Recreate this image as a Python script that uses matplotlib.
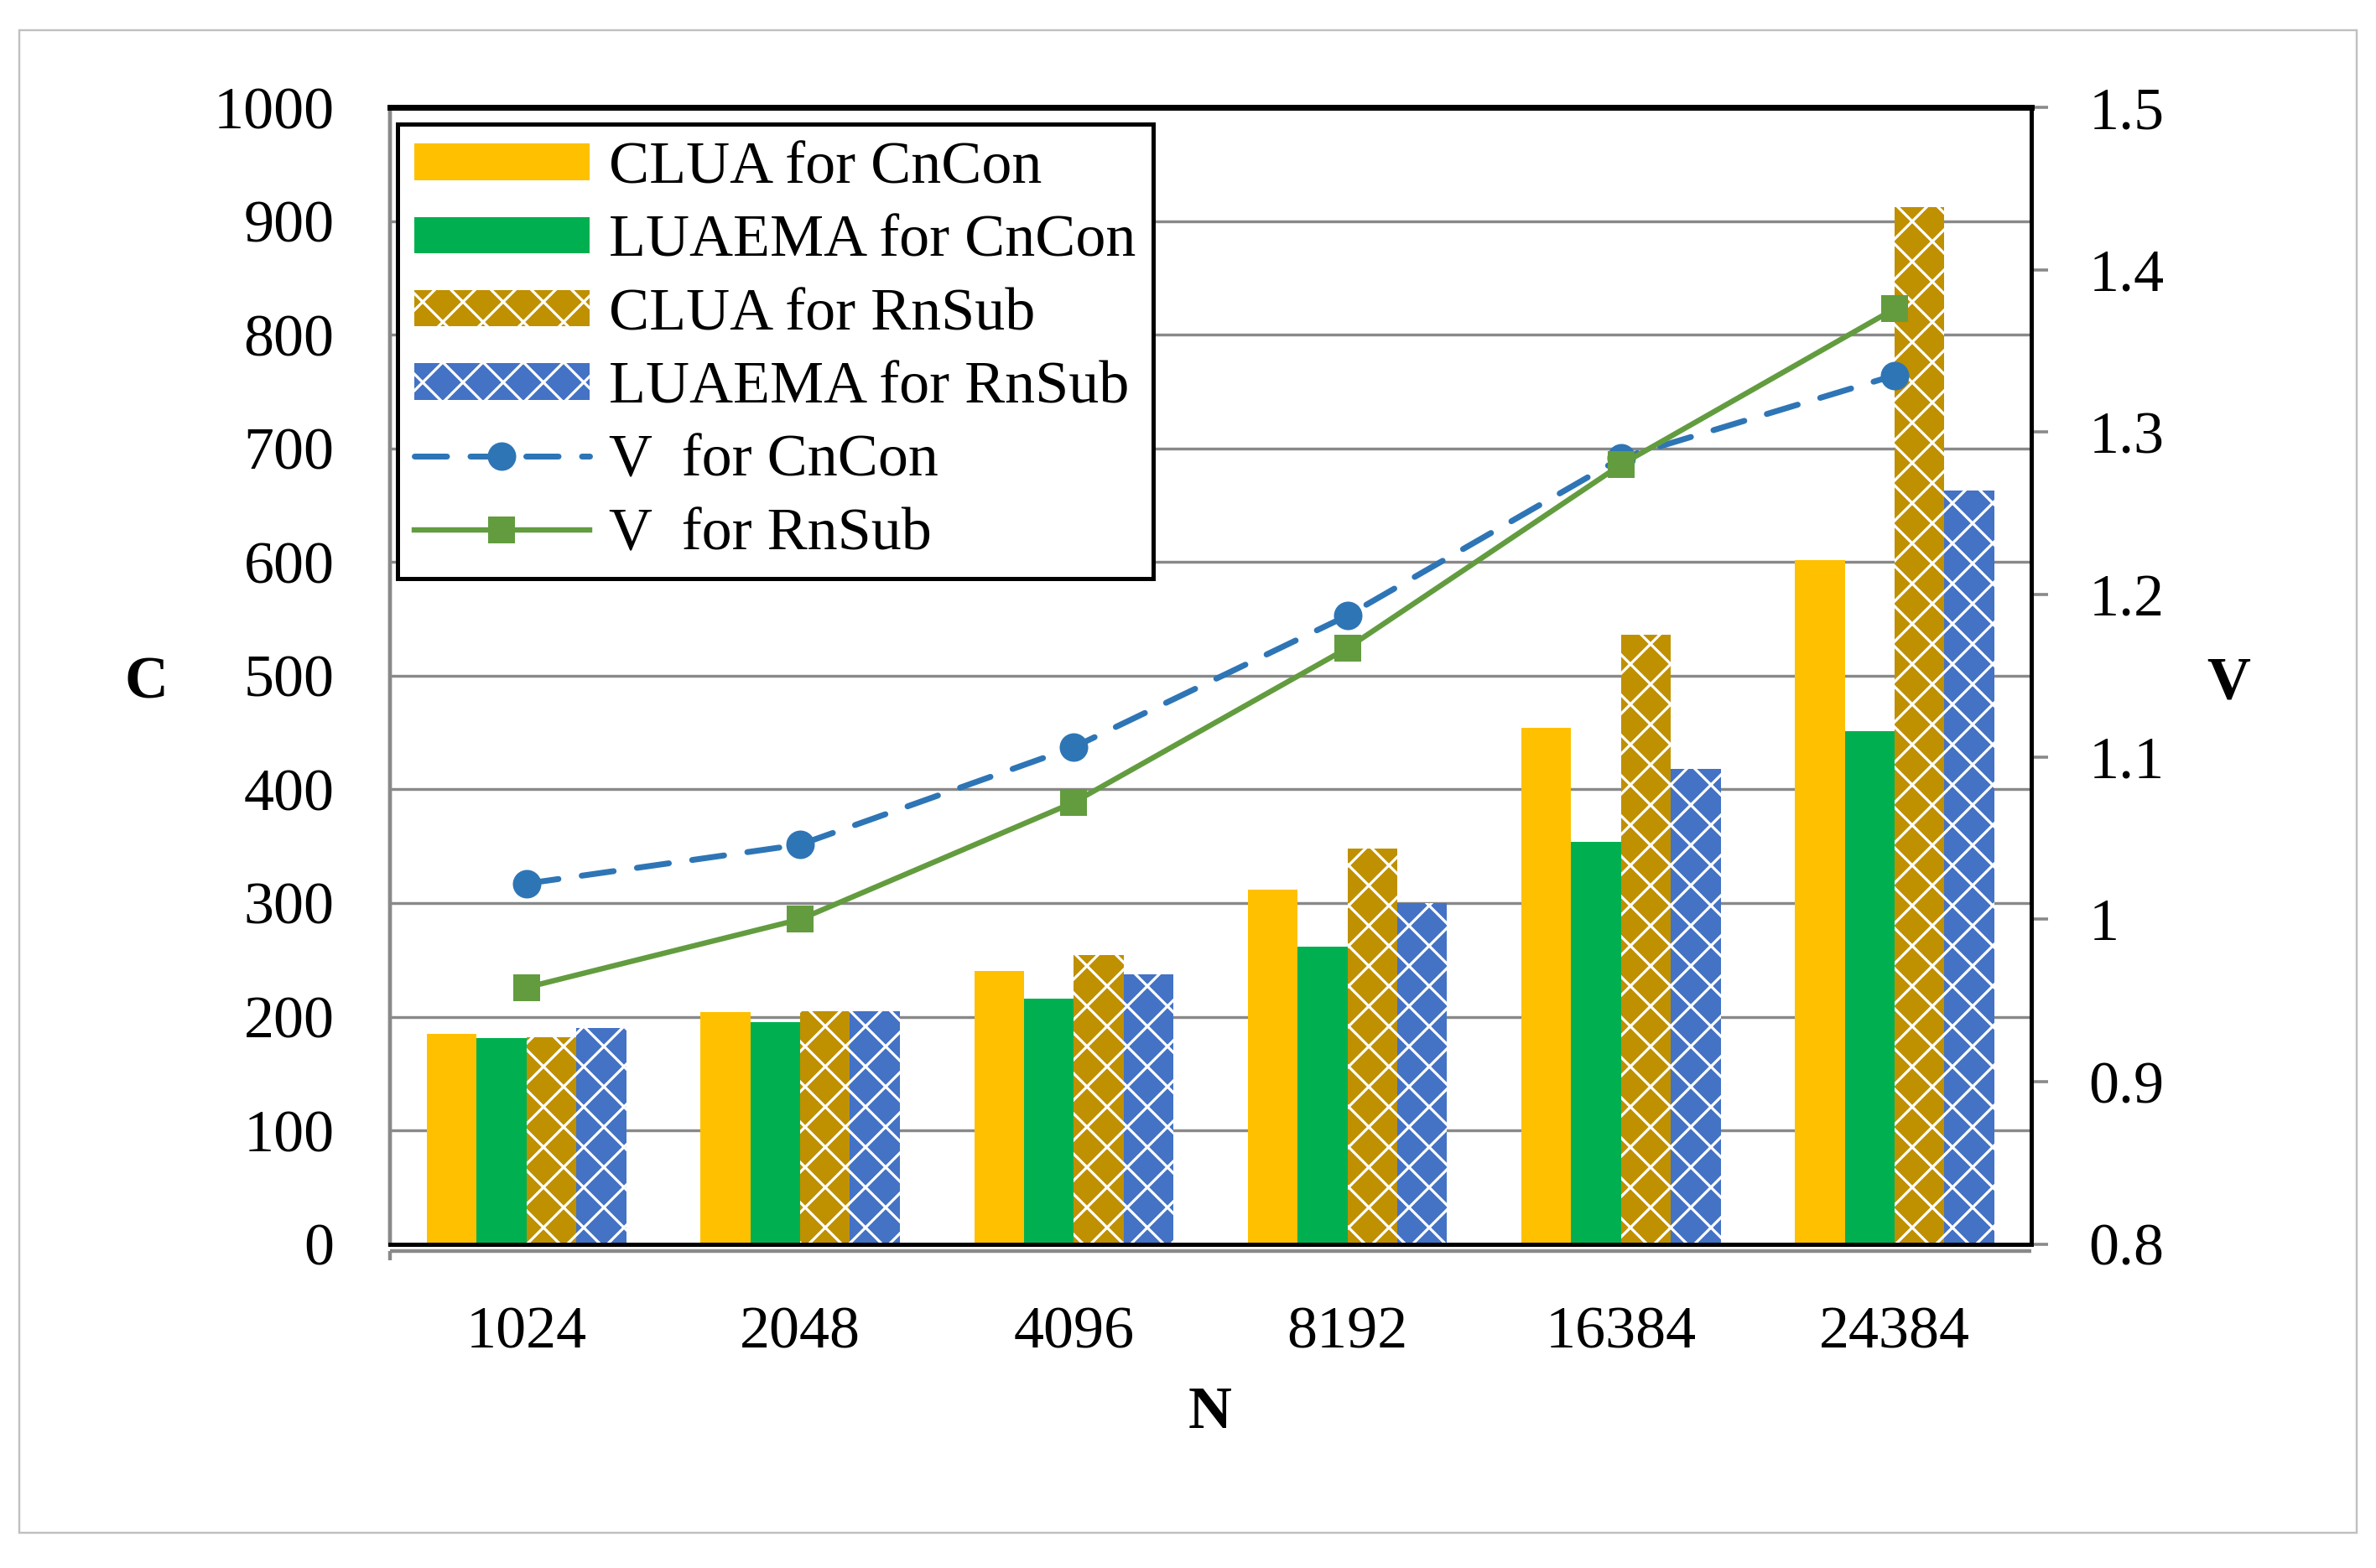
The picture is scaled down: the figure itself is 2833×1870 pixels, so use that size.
import matplotlib
matplotlib.use('Agg')
import matplotlib.pyplot as plt
import numpy as np
from matplotlib.patches import Rectangle

# ---- data ----
categories = ['1024', '2048', '4096', '8192', '16384', '24384']
clua_cncon = [185, 204, 240, 312, 454, 602]
luaema_cncon = [181, 195, 216, 262, 354, 451]
clua_rnsub = [182, 205, 254, 348, 536, 912]
luaema_rnsub = [190, 205, 237, 300, 418, 663]
v_cncon = [1.022, 1.046, 1.106, 1.187, 1.284, 1.335]
v_rnsub = [0.958, 1.000, 1.072, 1.167, 1.280, 1.376]
left_ticks = [0, 100, 200, 300, 400, 500, 600, 700, 800, 900, 1000]
right_ticks = [0.8, 0.9, 1.0, 1.1, 1.2, 1.3, 1.4, 1.5]
right_labels = ['0.8', '0.9', '1', '1.1', '1.2', '1.3', '1.4', '1.5']
series_labels = ['CLUA for CnCon', 'LUAEMA for CnCon', 'CLUA for RnSub',
                 'LUAEMA for RnSub', 'V  for CnCon', 'V  for RnSub']

plt.rcParams['font.family'] = ['Liberation Serif', 'DejaVu Serif']
plt.rcParams['hatch.linewidth'] = 1.6

DPI = 144
fig = plt.figure(figsize=(2833 / DPI, 1870 / DPI), dpi=DPI)
fig.patch.set_facecolor('white')
fig.patches.append(Rectangle((13 / 1568, 1 - 1013 / 1036), (1555 - 13) / 1568,
                             (1013 - 20) / 1036, transform=fig.transFigure,
                             fill=False, edgecolor='#c0c0c0', linewidth=1.2))

ax = fig.add_axes([0.164, 0.2066, 0.691, 0.7249])
ax2 = ax.twinx()

x = np.arange(len(categories))
w = 0.182
grid_c = '#898989'

b1 = ax.bar(x - 1.5 * w, clua_cncon, w, color='#FFC000', linewidth=0, zorder=3,
            label=series_labels[0])
b2 = ax.bar(x - 0.5 * w, luaema_cncon, w, color='#00B050', linewidth=0, zorder=3,
            label=series_labels[1])
b3 = ax.bar(x + 0.5 * w, clua_rnsub, w, color='#BF9000', edgecolor='white',
            hatch='x', linewidth=0, zorder=3, label=series_labels[2])
b4 = ax.bar(x + 1.5 * w, luaema_rnsub, w, color='#4472C4', edgecolor='white',
            hatch='x', linewidth=0, zorder=3, label=series_labels[3])

ax.set_xlim(-0.5, len(categories) - 0.5)
ax.set_ylim(0, 1000)
ax.set_yticks(left_ticks)
ax.set_yticklabels([str(t) for t in left_ticks])
ax.set_xticks(x)
ax.set_xticklabels(categories)
ax.yaxis.grid(True, color=grid_c, linewidth=1.7, zorder=0)
ax.set_axisbelow(True)
ax.tick_params(axis='y', length=0, pad=33, labelsize=36)
ax.tick_params(axis='x', length=0, pad=37, labelsize=36)

# gray category axis line just beneath the black plot-area border
ax.plot([0, 1], [-0.006, -0.006], transform=ax.transAxes, color=grid_c,
        linewidth=2.2, clip_on=False, zorder=4, solid_capstyle='butt')
ax.plot([0, 0], [-0.006, -0.014], transform=ax.transAxes, color=grid_c,
        linewidth=2.2, clip_on=False, zorder=4, solid_capstyle='butt')

l1, = ax2.plot(x, v_cncon, color='#2E75B6', linewidth=3.5, linestyle=(0, (5.5, 4)),
               dash_capstyle='round', marker='o', markersize=16,
               label=series_labels[4], zorder=5)
l2, = ax2.plot(x, v_rnsub, color='#629C3F', linewidth=3.2, marker='s',
               markersize=15, label=series_labels[5], zorder=5)
ax2.set_ylim(0.8, 1.5)
ax2.set_yticks(right_ticks)
ax2.set_yticklabels(right_labels)
ax2.tick_params(axis='y', length=10, width=1.8, color=grid_c, direction='out',
                pad=24, labelsize=36)

for a in (ax, ax2):
    a.spines['top'].set_color('black')
    a.spines['top'].set_linewidth(3.5)
    a.spines['right'].set_color('black')
    a.spines['right'].set_linewidth(2.5)
    a.spines['bottom'].set_color('black')
    a.spines['bottom'].set_linewidth(2.5)
    a.spines['left'].set_color(grid_c)
    a.spines['left'].set_linewidth(2.2)

ax.set_ylabel('C', fontsize=36, fontweight='bold', rotation=0, va='center', ha='center')
ax.yaxis.set_label_coords(-0.148, 0.493)
ax2.set_ylabel('V', fontsize=36, fontweight='bold', rotation=0, va='center', ha='center')
ax2.yaxis.set_label_coords(1.12, 0.493)
ax.set_xlabel('N', fontsize=36, fontweight='bold', va='center', ha='center')
ax.xaxis.set_label_coords(0.4995, -0.149)

handles = [b1, b2, b3, b4, l1, l2]
leg = ax2.legend(handles, series_labels, loc='upper left',
                 bbox_to_anchor=(0.0046, 0.985), fontsize=36, frameon=True,
                 fancybox=False, framealpha=1, edgecolor='black',
                 handlelength=2.9, handleheight=0.55, handletextpad=0.33,
                 borderpad=0.28, labelspacing=0.31, borderaxespad=0)
leg.get_frame().set_linewidth(2.5)
leg.set_zorder(10)

fig.savefig('out.png', dpi=DPI)
